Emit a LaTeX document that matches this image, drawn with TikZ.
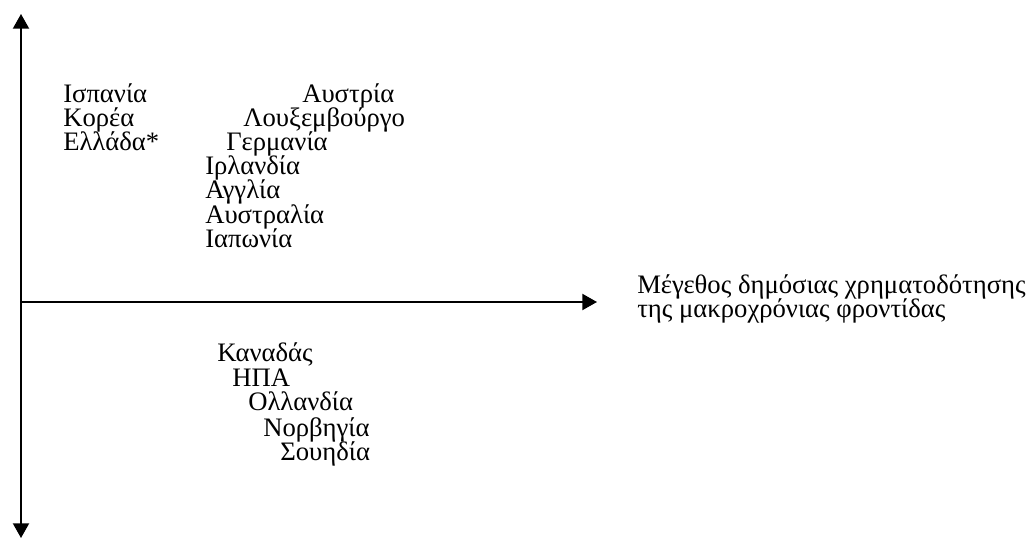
\documentclass[tikz,border=0pt]{standalone}
\usepackage{fontspec}
\setmainfont{Liberation Serif}
\usetikzlibrary{arrows.meta}
\begin{document}
\begin{tikzpicture}[x=0.75pt,y=-0.75pt,
  lbl/.style={anchor=base west,inner sep=0pt,font=\fontsize{20pt}{18pt}\selectfont},
  axis/.style={line width=1.5pt,-{Triangle[length=11pt,width=12pt]}}]
\useasboundingbox (0,0) rectangle (1032,538);
% axes
\coordinate (o) at (21,302);
\coordinate (top) at (21,14);
\coordinate (bot) at (21,538);
\coordinate (right) at (597,302);
\draw[axis] (o) -- (top);
\draw[axis] (o) -- (bot);
\draw[axis] (o) -- (right);
% upper half
\node[lbl] (esp) at (63,103) {Ισπανία};
\node[lbl] (aut) at (302,103) {Αυστρία};
\node[lbl] (kor) at (63,127) {Κορέα};
\node[lbl] (lux) at (243,127) {Λουξεμβούργο};
\node[lbl] (ell) at (63,151) {Ελλάδα*};
\node[lbl] (ger) at (226,151) {Γερμανία};
\node[lbl] (irl) at (205,175) {Ιρλανδία};
\node[lbl] (eng) at (205,199) {Αγγλία};
\node[lbl] (aus) at (205,224) {Αυστραλία};
\node[lbl] (jap) at (205,248) {Ιαπωνία};
% lower half
\node[lbl] (can) at (217,362) {Καναδάς};
\node[lbl] (usa) at (232,387) {ΗΠΑ};
\node[lbl] (ned) at (248,411) {Ολλανδία};
\node[lbl] (nor) at (263,436) {Νορβηγία};
\node[lbl] (swe) at (280,460) {Σουηδία};
% axis caption
\node[lbl] (cap1) at (637,294) {Μέγεθος δημόσιας χρηματοδότησης};
\node[lbl] (cap2) at (637,318) {της μακροχρόνιας φροντίδας};
\end{tikzpicture}
\end{document}
